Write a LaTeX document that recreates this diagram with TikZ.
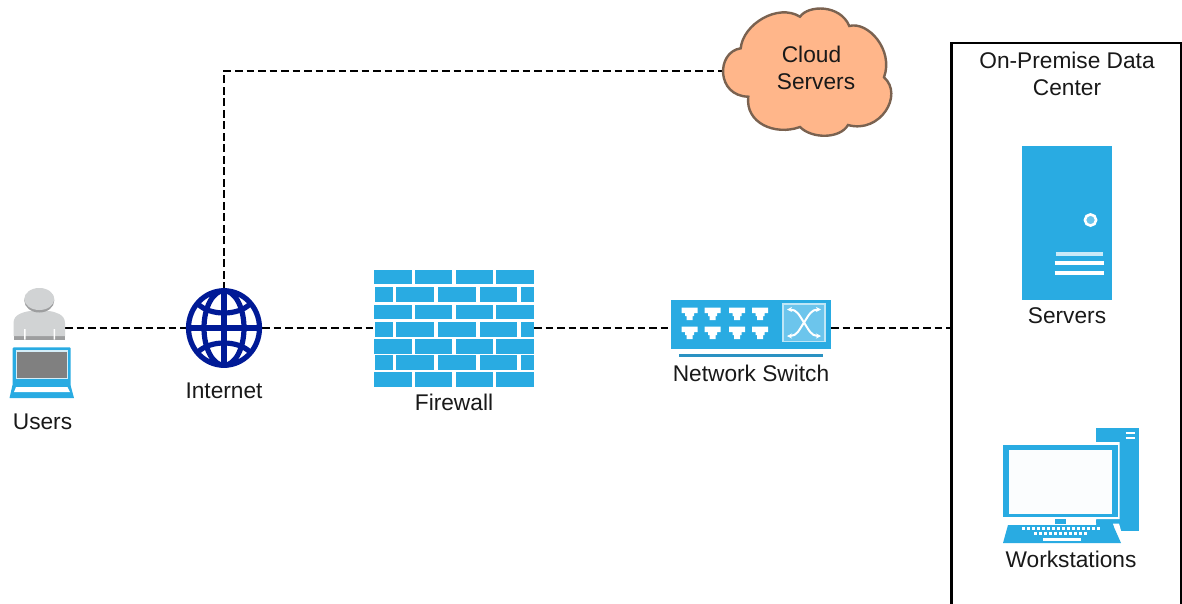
\documentclass[tikz,border=0pt]{standalone}
\usepackage{fontspec}
\usetikzlibrary{arrows.meta}
\setmainfont{Liberation Sans}
\definecolor{iconblue}{HTML}{29ABE2}
\definecolor{lightblue}{HTML}{6CC5EC}
\definecolor{globeblue}{HTML}{001A96}
\definecolor{cloudfill}{HTML}{FFB68A}
\definecolor{clouddraw}{HTML}{7A6250}
\definecolor{persongrey}{HTML}{D1D3D4}
\definecolor{barblue}{HTML}{2A92C2}
\tikzset{
  x=1pt,y=-1pt,
  label/.style={font=\fontsize{22.7}{28}\selectfont,text=black!90,inner sep=0pt,align=center},
  link/.style={draw=black,line width=2.8pt,dash pattern=on 7.8pt off 3.7pt},
  holder/.style={inner sep=0pt,outer sep=0pt},
  brick/.style={fill=iconblue},
  portshape/.style={fill=white},
  whiteline/.style={draw=white,line width=4pt},
  arrowline/.style={draw=white,line width=2pt}
}
\begin{document}
\begin{tikzpicture}
\useasboundingbox (0,0) rectangle (1182,603);
\fill[white] (0,0) rectangle (1182,603);
% holders
\node[holder,minimum width=52pt,minimum height=30pt] (users) at (39,326) {};
\node[holder,circle,minimum size=76pt] (internet) at (224,328) {};
\node[holder,minimum width=160pt,minimum height=117pt] (firewall) at (454,328.5) {};
\node[holder,minimum width=160pt,minimum height=49pt] (switch) at (751,324) {};
\coordinate (cloudw) at (722,71);
\coordinate (corner) at (224,71);
\coordinate (dcw) at (951.5,328);
% connectors
\draw[link] (users.east |- internet.west) -- (internet.west);
\draw[link] (internet.east) -- (firewall.west |- internet.east);
\draw[link] (firewall.east |- internet.east) -- (switch.west |- internet.east);
\draw[link] (switch.east |- internet.east) -- (dcw);
\draw[link] (internet.north) -- (corner) -- (cloudw);
% cloud
\draw[draw=clouddraw,fill=cloudfill,line width=2.4pt]
  (740.7,48.3) .. controls (743,24) and (778,3) .. (800,16.7)
  .. controls (808,5) and (840,4) .. (849.3,26)
  .. controls (868,21) and (894,50) .. (884,77.3)
  .. controls (904,95) and (880,134) .. (848,125)
  .. controls (840,139) and (812,139) .. (800,127)
  .. controls (775,136) and (745,123) .. (748.3,96.7)
  .. controls (716,96) and (716,52) .. (740.7,48.3) -- cycle;
\node[label] (cloudt1) at (811.5,54.5) {Cloud};
\node[label] (cloudt2) at (816,82) {Servers};
% data center box
\draw[draw=black,line width=2.2pt] (951.5,610) -- (951.5,43) -- (1181,43) -- (1181,610);
\node[label] (dct1) at (1067,60.5) {On-Premise Data};
\node[label] (dct2) at (1067,88) {Center};
% users
\fill[persongrey!75!black] (13.5,334) rectangle (65,339.5);
\fill[persongrey] (13.5,336) -- (13.5,323) .. controls (13.5,314) and (24,312) .. (30,311)
  -- (49,311) .. controls (55,312) and (65,314) .. (65,323) -- (65,336) -- cycle;
\fill[persongrey!75!black] (39.3,300.5) ellipse (15 and 12);
\fill[persongrey] (39.3,299) ellipse (15 and 11);
\fill[white] (24,329) rectangle (25.5,339.5) (53.5,329) rectangle (55,339.5);
\fill[iconblue,rounded corners=1pt] (12.7,347.3) rectangle (70.7,386);
\fill[white!80!iconblue] (15.5,350) rectangle (68,379);
\fill[black!50] (17,351.5) rectangle (66.5,377.5);
\fill[iconblue] (12.5,385) -- (70.5,385) -- (74,398) -- (9.5,398) -- cycle;
\fill[white] (16,387) -- (67.5,387) -- (70,392) -- (14,392) -- cycle;
\node[label] (userst) at (42.5,422) {Users};
% internet
\begin{scope}[draw=globeblue,line width=5.2pt]
\draw (224,328) ellipse (35.5 and 37.3);
\draw (224,328) ellipse (20 and 37.3);
\draw (224,292) -- (224,364);
\draw (188,328) -- (260,328);
\draw (198,304) .. controls (210,316) and (238,316) .. (250,304);
\draw (198,352) .. controls (210,340) and (238,340) .. (250,352);
\end{scope}
\node[label] (internett) at (224,390.5) {Internet};
% firewall
\foreach \a/\b in {270/284.3,304.5/319,339/353.5,372/386.5}{
  \fill[brick] (373.5,\a) rectangle (412,\b);
  \fill[brick] (414.7,\a) rectangle (452,\b);
  \fill[brick] (455.5,\a) rectangle (492.5,\b);
  \fill[brick] (496,\a) rectangle (534,\b);
}
\foreach \a/\b in {287/302,322/337,355/370}{
  \fill[brick] (375,\a) rectangle (392.7,\b);
  \fill[brick] (396.3,\a) rectangle (434,\b);
  \fill[brick] (438,\a) rectangle (476,\b);
  \fill[brick] (480,\a) rectangle (517,\b);
  \fill[brick] (520.7,\a) rectangle (533.5,\b);
}
\node[label] (firewallt) at (454,402) {Firewall};
% switch
\fill[iconblue] (671,299.5) rectangle (831,348.5);
\fill[barblue] (678.5,353.5) rectangle (823,357.3);
\foreach \px in {689.7,712.7,737,760}{
 \foreach \py in {307.5,326.5}{
  \fill[portshape,shift={(\px,\py)}] (-8,0) -- (8,0) -- (8,5.5) -- (4.5,5.5) -- (4.5,8.5) -- (3,8.5) -- (3,12.5) -- (-3,12.5) -- (-3,8.5) -- (-4.5,8.5) -- (-4.5,5.5) -- (-8,5.5) -- cycle;
 }
}
\fill[lightblue,draw=white!70!iconblue,line width=1.8pt] (783,304) rectangle (825,341.5);
\draw[arrowline,-{Stealth[length=5pt,width=5pt]}] (804,322.5) .. controls (799,315) and (797,309.5) .. (787,309.5);
\draw[arrowline,-{Stealth[length=5pt,width=5pt]}] (804,322.5) .. controls (809,330) and (811,336) .. (821,336);
\draw[arrowline,-{Stealth[length=5pt,width=5pt]}] (804,322.5) .. controls (809,315) and (811,309.5) .. (821,309.5);
\draw[arrowline,-{Stealth[length=5pt,width=5pt]}] (804,322.5) .. controls (799,330) and (797,336) .. (787,336);
\node[label] (switcht) at (751,373.5) {Network Switch};
% server
\fill[iconblue] (1022,146) rectangle (1112,300);
\fill[lightblue,draw=white,line width=2.6pt] (1090.5,220) circle (5.6);
\draw[draw=white!75!iconblue,line width=3.4pt] (1055.5,254) -- (1103,254);
\draw[whiteline] (1054.5,263) -- (1104,263);
\draw[whiteline] (1054.5,272.5) -- (1104,272.5);
\node[label] (servert) at (1067,316) {Servers};
% workstation
\fill[iconblue] (1095.7,427.5) rectangle (1138.7,531);
\draw[draw=white,line width=2pt] (1125.5,433) -- (1134.5,433) (1125.5,437.5) -- (1134.5,437.5);
\fill[white] (1001,442) rectangle (1119.5,519) (1085,519) rectangle (1096,535);
\fill[iconblue] (1096,519.5) rectangle (1118,523);
\fill[iconblue] (1003.3,444.5) rectangle (1117.5,517);
\fill[white!98!iconblue] (1009,449.5) rectangle (1112,513.5);
\fill[iconblue] (1055,518.5) rectangle (1066,523.5);
\fill[white] (1113,523.5) -- (1119,523.5) -- (1125,545) -- (1118,545) -- cycle;
\fill[iconblue] (1008,525) -- (1113,525) -- (1121,543) -- (1003,543) -- cycle;
\foreach \kx in {0,...,15}{\fill[white] (1022+\kx*5,527) rectangle ++(3,3);}
\foreach \kx in {0,...,10}{\fill[white] (1034+\kx*5,531.5) rectangle ++(3,3);}
\fill[white] (1043,538) rectangle (1081,541);
\node[label] (workt) at (1071,559) {Workstations};
\end{tikzpicture}
\end{document}
